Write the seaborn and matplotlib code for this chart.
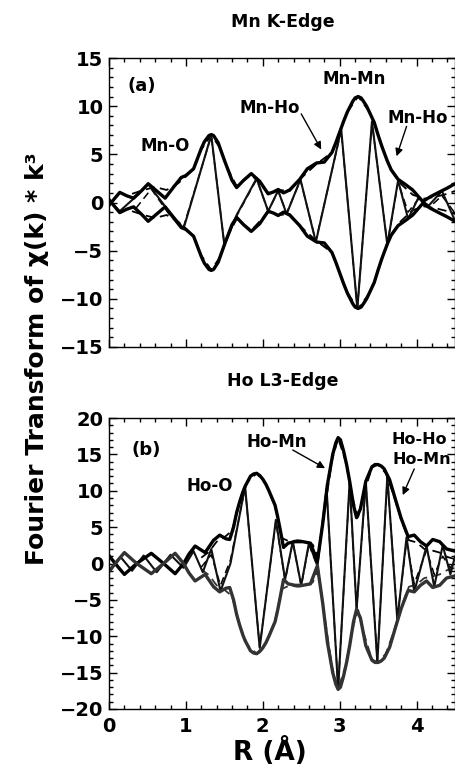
import numpy as np
import pandas as pd
import seaborn as sns
import matplotlib
matplotlib.use("Agg")
import matplotlib.pyplot as plt
from matplotlib.ticker import MultipleLocator

# ---------------- data ----------------
# Panel (a) Mn K-edge: magnitude envelope (signed where the two branches cross)
mn_env_R = [0.00, 0.04, 0.14, 0.23, 0.32, 0.42, 0.51, 0.62, 0.73, 0.84, 0.94, 1.00,
            1.10, 1.20, 1.24, 1.30, 1.33, 1.36, 1.42, 1.50, 1.60, 1.66, 1.75, 1.85,
            1.96, 2.07, 2.14, 2.20, 2.27, 2.35, 2.48, 2.58, 2.70, 2.80, 2.90, 2.95,
            3.00, 3.05, 3.10, 3.17, 3.20, 3.24, 3.28, 3.31, 3.35, 3.38, 3.45, 3.50,
            3.55, 3.62, 3.67, 3.76, 3.85, 3.95, 4.08, 4.18, 4.30, 4.40, 4.50]
mn_env = [-0.3, 0.1, 1.05, 0.7, 0.45, 1.2, 1.95, 1.2, 0.45, 1.6, 2.6, 2.8,
          3.5, 5.6, 6.3, 6.95, 7.05, 6.95, 6.2, 4.4, 2.3, 1.55, 2.3, 3.0,
          2.2, 0.9, 1.1, 1.35, 1.0, 1.3, 2.4, 3.5, 4.1, 4.2, 5.2, 6.2,
          7.3, 8.4, 9.4, 10.5, 10.85, 11.0, 10.85, 10.5, 10.0, 9.5, 8.3, 7.0,
          5.8, 4.3, 3.4, 2.4, 1.9, 1.3, 0.1, 0.6, 1.1, 1.5, 1.95]
# Panel (a) real part
mn_re_R = [0.00, 0.14, 0.32, 0.51, 0.73, 0.97, 1.33, 1.50, 1.66, 1.92, 2.07, 2.20,
           2.31, 2.49, 2.69, 3.02, 3.23, 3.42, 3.62, 3.76, 3.89, 4.03, 4.15, 4.33, 4.50]
mn_re = [0.2, -0.9, 0.4, 1.9, -0.4, -2.7, 7.0, -4.4, -1.3, 2.5, -0.9, 1.25,
         -1.2, 2.4, -4.1, 7.6, -11.0, 8.4, -4.4, 2.3, -1.7, 0.6, -0.4, 1.2, -1.9]
# Panel (a) fit
mn_fit_R = [0.30, 0.45, 0.60, 0.75, 0.90, 1.00, 1.10, 1.20, 1.33, 1.45, 1.55, 1.66,
            1.85, 2.07, 2.20, 2.35, 2.48, 2.70, 2.90, 3.00, 3.10, 3.24, 3.38, 3.45,
            3.55, 3.67, 3.80, 3.95, 4.10, 4.25, 4.40, 4.50]
mn_fit = [0.9, 1.3, 1.6, 1.3, 2.0, 2.7, 3.5, 5.5, 7.0, 5.6, 3.4, 1.7,
          2.9, 1.0, 1.3, 1.2, 2.4, 4.0, 5.2, 7.3, 9.4, 11.0, 9.5, 8.3,
          5.8, 3.3, 1.9, 0.8, 0.4, 0.6, 0.9, 1.2]
mn_fit_re_R = [0.35, 0.55, 0.78, 0.97, 1.33, 1.50, 1.66, 1.92, 2.07, 2.20, 2.31, 2.49,
               2.69, 3.02, 3.23, 3.42, 3.62, 3.76, 3.89, 4.03, 4.18, 4.33, 4.50]
mn_fit_re = [-0.6, 1.4, -1.2, -2.5, 6.9, -4.3, -1.4, 2.4, -0.9, 1.2, -1.1, 2.3,
             -4.0, 7.5, -11.0, 8.3, -4.3, 2.1, -1.0, 0.4, -0.4, 0.7, -1.1]

# Panel (b) Ho L3-edge: magnitude envelope (signed where the branches braid)
ho_env_R = [0.00, 0.08, 0.20, 0.36, 0.55, 0.71, 0.86, 0.97, 1.04, 1.12, 1.25, 1.36,
            1.44, 1.52, 1.57, 1.62, 1.66, 1.70, 1.74, 1.77, 1.84, 1.88, 1.92, 1.96,
            2.00, 2.04, 2.08, 2.12, 2.16, 2.19, 2.22, 2.27, 2.33, 2.42, 2.52, 2.62,
            2.71, 2.78, 2.84, 2.91, 2.95, 2.98, 3.01, 3.05, 3.09, 3.13, 3.18, 3.22,
            3.27, 3.34, 3.42, 3.46, 3.50, 3.54, 3.58, 3.65, 3.72, 3.80, 3.89, 3.97,
            4.05, 4.13, 4.21, 4.30, 4.39, 4.50]
ho_env = [1.1, 0.0, -1.5, 0.0, 1.4, 0.0, -1.4, 0.0, 1.3, 2.4, 1.5, 3.2,
          3.9, 3.4, 3.3, 5.0, 7.0, 8.5, 9.8, 10.6, 12.0, 12.3, 12.4, 12.1,
          11.6, 10.9, 10.0, 9.0, 8.0, 6.6, 5.0, 2.2, 2.8, 3.0, 3.0, 2.8,
          0.3, 5.5, 10.8, 15.0, 16.6, 17.3, 17.0, 15.5, 13.6, 11.3, 8.0, 6.3,
          7.5, 11.3, 13.3, 13.6, 13.6, 13.4, 13.0, 11.5, 9.0, 6.2, 3.7, 3.9,
          3.0, 2.4, 3.3, 3.0, 2.0, 1.7]
# Panel (b) real part
ho_re_R = [0.00, 0.15, 0.30, 0.45, 0.62, 0.80, 0.97, 1.10, 1.22, 1.33, 1.45, 1.58,
           1.77, 1.96, 2.17, 2.29, 2.39, 2.50, 2.60, 2.71, 2.83, 2.98, 3.13, 3.22,
           3.34, 3.49, 3.62, 3.75, 3.87, 3.97, 4.13, 4.23, 4.34, 4.44, 4.50]
ho_re = [-1.2, 0.9, -1.0, 1.1, -1.2, 1.2, -0.6, 1.7, -1.2, 2.0, -3.8, 0.0,
         10.6, -11.6, 6.0, -2.2, 3.0, -3.0, 2.8, -0.3, 10.3, -17.3, 11.3, -6.3,
         11.3, -13.6, 12.0, -7.8, 3.6, -3.9, 2.4, -3.2, 2.5, -1.5, 1.0]
# Panel (b) fit
ho_fit_R = [1.20, 1.30, 1.40, 1.50, 1.60, 1.70, 1.80, 1.92, 2.05, 2.16, 2.25, 2.35,
            2.45, 2.55, 2.65, 2.72, 2.80, 2.90, 2.98, 3.08, 3.18, 3.24, 3.32, 3.42,
            3.50, 3.60, 3.70, 3.80, 3.90, 4.00, 4.10, 4.20, 4.30, 4.40, 4.50]
ho_fit = [0.8, 1.6, 3.0, 3.6, 4.5, 8.5, 11.2, 12.4, 10.8, 7.8, 3.5, 3.0,
          3.2, 3.1, 2.6, 0.8, 7.0, 14.2, 17.2, 14.0, 8.5, 6.4, 9.8, 13.2,
          13.6, 12.4, 9.5, 6.0, 3.2, 2.9, 2.0, 1.8, 1.5, 0.9, 0.6]
ho_fit_re_R = [1.20, 1.33, 1.45, 1.58, 1.77, 1.96, 2.17, 2.29, 2.39, 2.50, 2.60, 2.71,
               2.83, 2.98, 3.13, 3.22, 3.34, 3.49, 3.62, 3.75, 3.87, 3.97, 4.13, 4.23,
               4.34, 4.44, 4.50]
ho_fit_re = [-0.5, 1.2, -3.0, 0.5, 10.4, -11.5, 5.8, -2.4, 3.0, -3.1, 2.6, -0.4,
             10.1, -17.1, 11.0, -6.2, 11.0, -13.4, 11.8, -7.5, 3.0, -2.8, 1.8, -1.5,
             1.0, -0.6, 0.3]

titles = ["Mn K-Edge", "Ho L3-Edge"]
panel_tags = ["(a)", "(b)"]
ylabel = "Fourier Transform of \u03c7(k) * k\u00b3"
xlabel = "R (\u00c5)"

# ---------------- style ----------------
sns.set_style("ticks")
plt.rcParams["font.family"] = ["DejaVu Sans"]
plt.rcParams["font.weight"] = "bold"
plt.rcParams["text.color"] = "black"
plt.rcParams["axes.labelcolor"] = "black"
plt.rcParams["xtick.color"] = "black"
plt.rcParams["ytick.color"] = "black"
plt.rcParams["axes.edgecolor"] = "black"

fig = plt.figure(figsize=(4.56, 7.71), dpi=100)
W, H = 456.0, 771.0
ax1 = fig.add_axes([109 / W, 1 - 347 / H, 346 / W, 289 / H])
ax2 = fig.add_axes([109 / W, 1 - 709 / H, 346 / W, 291 / H])


def draw(ax, env_R, env, re_R, re, fit_R, fit, fre_R, fre, low_color):
    env = np.asarray(env)
    fit = np.asarray(fit)
    kw = dict(ax=ax, estimator=None, sort=False, legend=False)
    # fits (dashed)
    sns.lineplot(x=fit_R, y=fit, color="black", lw=1.3, linestyle=(0, (5, 3)), **kw)
    sns.lineplot(x=fit_R, y=-fit, color=low_color, lw=1.3, linestyle=(0, (5, 3)), **kw)
    sns.lineplot(x=fre_R, y=fre, color="black", lw=1.1, linestyle=(0, (5, 3)), **kw)
    # data
    sns.lineplot(x=re_R, y=re, color="#111111", lw=1.5, **kw)
    sns.lineplot(x=env_R, y=env, color="black", lw=2.4, **kw)
    sns.lineplot(x=env_R, y=-env, color=low_color, lw=2.4, **kw)


draw(ax1, mn_env_R, mn_env, mn_re_R, mn_re, mn_fit_R, mn_fit, mn_fit_re_R, mn_fit_re, "black")
draw(ax2, ho_env_R, ho_env, ho_re_R, ho_re, ho_fit_R, ho_fit, ho_fit_re_R, ho_fit_re, "#333333")

for ax, (ylo, yhi) in zip([ax1, ax2], [(-15, 15), (-20, 20)]):
    ax.set_xlim(0, 4.5)
    ax.set_ylim(ylo, yhi)
    ax.xaxis.set_major_locator(MultipleLocator(1))
    ax.xaxis.set_minor_locator(MultipleLocator(0.2))
    ax.yaxis.set_major_locator(MultipleLocator(5))
    ax.yaxis.set_minor_locator(MultipleLocator(1))
    ax.tick_params(which="both", direction="in", top=True, right=True, width=1, colors="black")
    ax.tick_params(which="major", length=6, labelsize=14, pad=4)
    ax.tick_params(which="minor", length=3)
    for sp in ax.spines.values():
        sp.set_visible(True)
        sp.set_linewidth(1)
        sp.set_color("black")
    ax.set_xlabel("")
    ax.set_ylabel("")
    for lab in ax.get_xticklabels() + ax.get_yticklabels():
        lab.set_fontweight("bold")
        lab.set_color("black")

ax1.tick_params(labelbottom=False)
ax2.tick_params(axis="x", pad=6)

# titles and axis labels
fig.text(283 / W, 1 - 22 / H, titles[0], ha="center", va="center", fontsize=12.5,
         fontweight="bold", color="black")
fig.text(283 / W, 1 - 381 / H, titles[1], ha="center", va="center", fontsize=12.5,
         fontweight="bold", color="black")
fig.text(37 / W, 1 - 359 / H, ylabel, ha="center", va="center", rotation=90,
         fontsize=18, fontweight="bold", color="black")
fig.text(270 / W, 1 - 751 / H, xlabel, ha="center", va="center", fontsize=19,
         fontweight="bold", color="black")

# panel annotations
tfs = 12
ax1.text(0.43, 12.1, panel_tags[0], ha="center", va="center", fontsize=13, fontweight="bold")
ax1.text(0.73, 5.9, "Mn-O", ha="center", va="center", fontsize=tfs, fontweight="bold")
ax1.text(2.09, 9.8, "Mn-Ho", ha="center", va="center", fontsize=tfs, fontweight="bold")
ax1.text(3.19, 12.8, "Mn-Mn", ha="center", va="center", fontsize=tfs, fontweight="bold")
ax1.text(4.01, 8.8, "Mn-Ho", ha="center", va="center", fontsize=tfs, fontweight="bold")
arrow = dict(arrowstyle="-|>", lw=1.0, color="black", mutation_scale=11, shrinkA=0, shrinkB=0)
ax1.annotate("", xy=(2.76, 5.5), xytext=(2.50, 9.2), arrowprops=arrow)
ax1.annotate("", xy=(3.74, 4.8), xytext=(3.87, 7.9), arrowprops=arrow)

ax2.text(0.48, 15.6, panel_tags[1], ha="center", va="center", fontsize=13, fontweight="bold")
ax2.text(1.31, 10.6, "Ho-O", ha="center", va="center", fontsize=tfs, fontweight="bold")
ax2.text(2.18, 16.7, "Ho-Mn", ha="center", va="center", fontsize=tfs, fontweight="bold")
ax2.text(4.40, 17.0, "Ho-Ho", ha="right", va="center", fontsize=11.5, fontweight="bold")
ax2.text(4.45, 14.3, "Ho-Mn", ha="right", va="center", fontsize=11.5, fontweight="bold")
ax2.annotate("", xy=(3.82, 9.4), xytext=(3.97, 13.0), arrowprops=arrow)
ax2.annotate("", xy=(2.81, 13.1), xytext=(2.39, 15.6), arrowprops=arrow)

fig.savefig("out.png", dpi=100)
